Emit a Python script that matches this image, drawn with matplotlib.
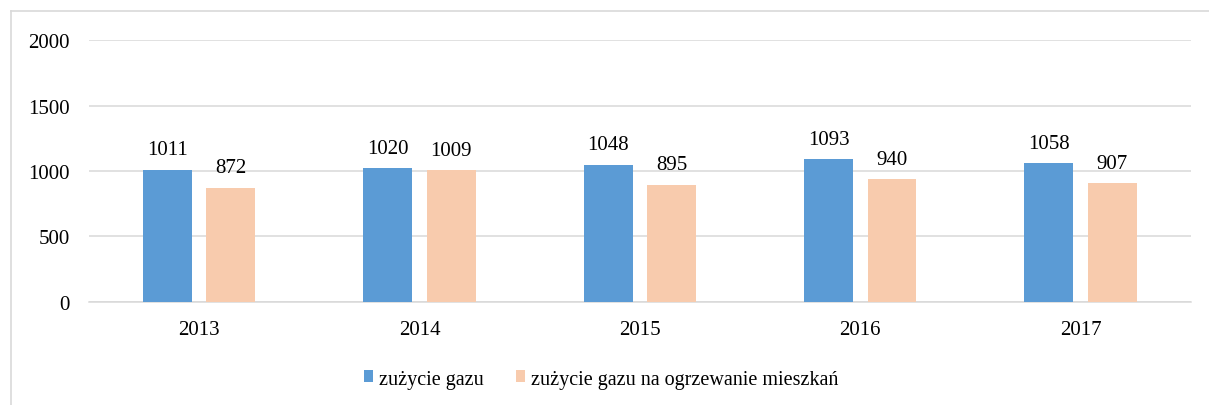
import matplotlib
matplotlib.use("Agg")
import matplotlib.pyplot as plt
from matplotlib.lines import Line2D
import numpy as np

years = ["2013", "2014", "2015", "2016", "2017"]
gas_total = [1011, 1020, 1048, 1093, 1058]
gas_heating = [872, 1009, 895, 940, 907]
series_names = ["zużycie gazu", "zużycie gazu na ogrzewanie mieszkań"]

BLUE = "#5B9BD5"
PEACH = "#F8CBAD"
GRID = "#D9D9D9"

plt.rcParams['font.family'] = ['Liberation Serif', 'DejaVu Serif']

fig = plt.figure(figsize=(12.09, 4.06), dpi=100)
ax = fig.add_axes([0.0736, 0.2537, 0.9114, 0.6453])

x = np.arange(len(years))
w = 0.222
off = 0.144
b1 = ax.bar(x - off, gas_total, w, color=BLUE, label=series_names[0], zorder=3)
b2 = ax.bar(x + off, gas_heating, w, color=PEACH, label=series_names[1], zorder=3)

# value labels above bars
for bars in (b1, b2):
    for rect in bars:
        h = rect.get_height()
        ax.annotate(str(int(h)), (rect.get_x() + rect.get_width() / 2, h),
                    xytext=(0, 11), textcoords="offset points",
                    ha="center", va="baseline", fontsize=15, color="#000000")

ax.set_xlim(-0.5, len(years) - 0.5)
ax.set_ylim(0, 2000)
ax.set_yticks([0, 500, 1000, 1500, 2000])
ax.set_xticks(x)
ax.set_xticklabels(years)
ax.yaxis.grid(True, color=GRID, linewidth=1.1, zorder=0)
ax.set_axisbelow(True)
for s in ["top", "right", "left"]:
    ax.spines[s].set_visible(False)
ax.spines["bottom"].set_color(GRID)
ax.spines["bottom"].set_linewidth(1.1)
ax.tick_params(axis="both", length=0, labelsize=15)
ax.tick_params(axis="y", pad=14)
ax.tick_params(axis="x", pad=13)

fig.legend(handles=[b1, b2], loc="center", bbox_to_anchor=(0.497, 0.064),
           ncol=2, frameon=False, fontsize=14.5, handlelength=0.45,
           handleheight=0.55, handletextpad=0.3, columnspacing=1.6)

# chart frame: only top and left edges are visible in the crop
x0 = 10.5 / 1209
y0 = 1 - 11.5 / 406
fig.add_artist(Line2D([x0, 1.0], [y0, y0], transform=fig.transFigure,
                      color=GRID, linewidth=1.2))
fig.add_artist(Line2D([x0, x0], [0.0, y0], transform=fig.transFigure,
                      color=GRID, linewidth=1.2))

fig.savefig("out.png", dpi=100)
